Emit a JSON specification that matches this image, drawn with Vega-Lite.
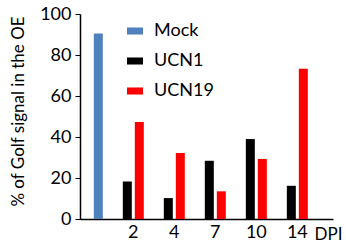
{
  "$schema": "https://vega.github.io/schema/vega-lite/v6.json",
  "width": 253,
  "height": 205,
  "autosize": {"type": "none"},
  "padding": {"left": 80, "top": 14, "right": 13, "bottom": 24},
  "background": "white",
  "config": {
    "font": "Lato",
    "view": {"stroke": null},
    "axis": {"labelColor": "#000000", "titleColor": "#000000", "domainColor": "#000000", "tickColor": "#000000", "grid": false}
  },
  "data": {
    "values": [
      {"dpi": "M", "series": "Mock", "slot": "b", "value": 90.5},
      {"dpi": "2", "series": "UCN1", "slot": "a", "value": 18.3},
      {"dpi": "2", "series": "UCN19", "slot": "b", "value": 47.3},
      {"dpi": "4", "series": "UCN1", "slot": "a", "value": 10.2},
      {"dpi": "4", "series": "UCN19", "slot": "b", "value": 32.2},
      {"dpi": "7", "series": "UCN1", "slot": "a", "value": 28.4},
      {"dpi": "7", "series": "UCN19", "slot": "b", "value": 13.5},
      {"dpi": "10", "series": "UCN1", "slot": "a", "value": 39.0},
      {"dpi": "10", "series": "UCN19", "slot": "b", "value": 29.3},
      {"dpi": "14", "series": "UCN1", "slot": "a", "value": 16.2},
      {"dpi": "14", "series": "UCN19", "slot": "b", "value": 73.3}
    ]
  },
  "mark": {"type": "bar", "width": 9},
  "encoding": {
    "x": {
      "field": "dpi",
      "type": "nominal",
      "sort": ["M", "2", "4", "7", "10", "14"],
      "scale": {"domain": ["M", "2", "4", "7", "10", "14"], "paddingInner": 0.4, "paddingOuter": 0.285, "align": 0},
      "axis": {
        "labelExpr": "datum.value == 'M' ? '' : datum.value",
        "labelAngle": 0,
        "labelFontSize": 18,
        "labelPadding": 4,
        "ticks": false,
        "domainWidth": 1.5,
        "title": "DPI",
        "titleFontSize": 17,
        "titleFontWeight": "normal",
        "titleAnchor": null,
        "titleX": 248,
        "titleY": 15,
        "titleAlign": "center",
        "titleBaseline": "middle"
      }
    },
    "xOffset": {
      "field": "slot",
      "type": "nominal",
      "scale": {"domain": ["a", "b"], "paddingInner": 0.25, "paddingOuter": 0.15}
    },
    "y": {
      "field": "value",
      "type": "quantitative",
      "scale": {"domain": [0, 100], "nice": false},
      "axis": {
        "values": [0, 20, 40, 60, 80, 100],
        "labelFontSize": 18,
        "labelPadding": 4,
        "tickSize": 5,
        "domainWidth": 1.5,
        "title": "% of Golf signal in the OE",
        "titleFontSize": 17,
        "titleFontWeight": "normal",
        "titleAngle": -90,
        "titleX": -62,
        "titleY": 97,
        "titleAlign": "center",
        "titleBaseline": "middle"
      }
    },
    "color": {
      "field": "series",
      "type": "nominal",
      "scale": {"domain": ["Mock", "UCN1", "UCN19"], "range": ["#4F81BD", "#000000", "#FF0000"]},
      "legend": {
        "title": null,
        "orient": "none",
        "legendX": 46,
        "legendY": 8,
        "padding": 0,
        "symbolType": "M-1,-0.44H1V0.44H-1Z",
        "symbolSize": 256,
        "symbolStrokeWidth": 0,
        "labelFontSize": 18,
        "labelColor": "#000000",
        "labelOffset": 10,
        "rowPadding": 12
      }
    }
  }
}
